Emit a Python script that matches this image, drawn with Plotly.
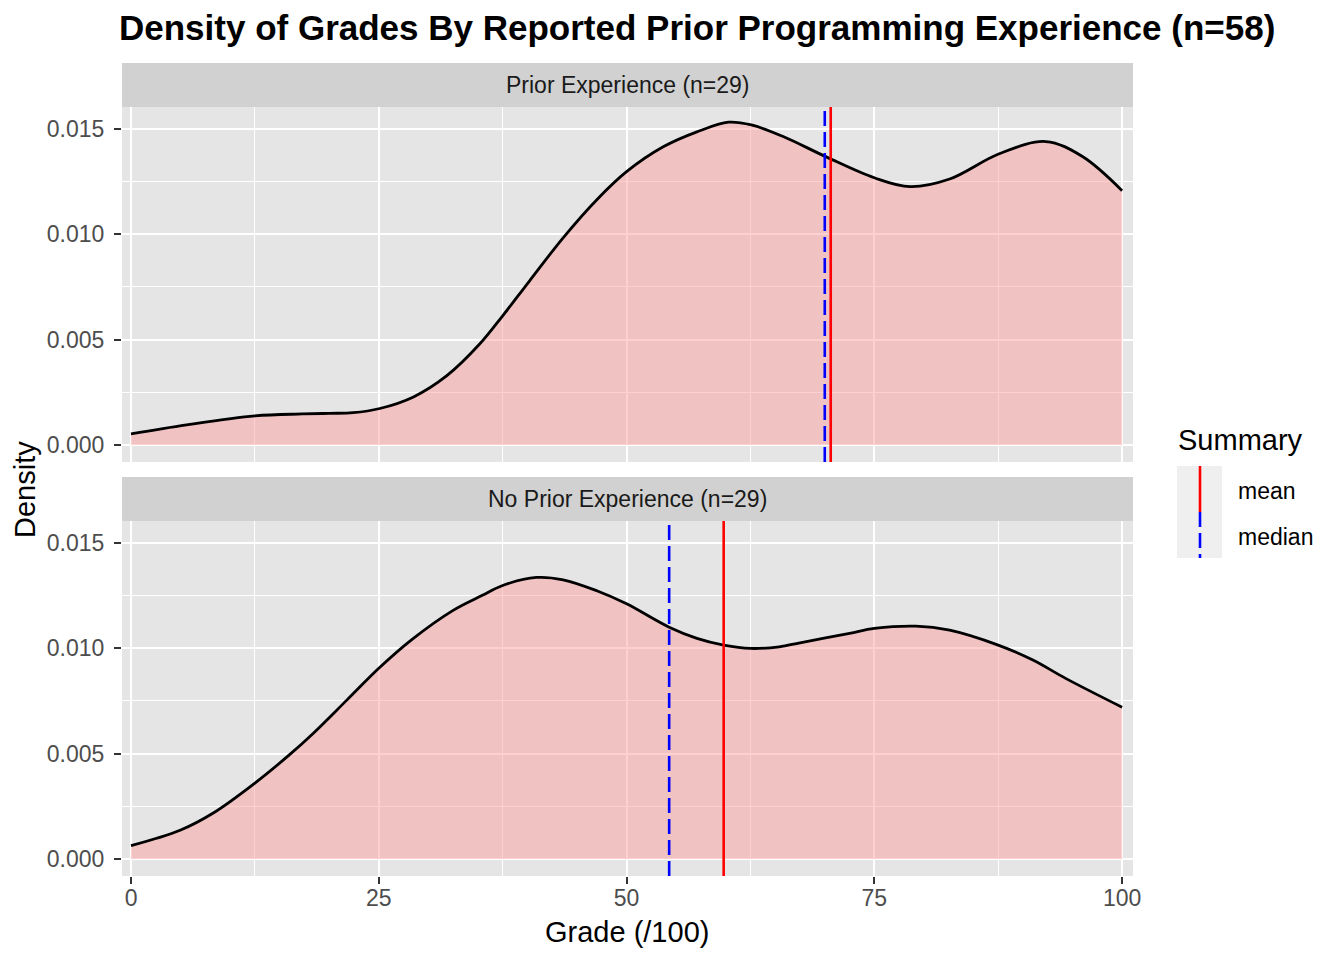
import plotly.graph_objects as go
from plotly.subplots import make_subplots

# ---------------- data ----------------
grade_prior = [0, 5.6, 12.5, 17.3, 20, 22.4, 25.1, 28.5, 31.9, 35.2, 37.5, 40.2, 43.6, 47.0, 50,
               53.7, 57.1, 60.3, 62.6, 65.8, 70.2, 75, 78.6, 82.6, 87.6, 92.3, 96, 100]
density_prior = [0.00052, 0.00095, 0.00138, 0.00147, 0.0015, 0.00153, 0.00173, 0.00228, 0.0033,
                 0.0048, 0.00613, 0.00778, 0.00983, 0.01164, 0.01297, 0.01415, 0.01486, 0.01532,
                 0.01519, 0.01464, 0.01366, 0.01268, 0.01226, 0.01262, 0.01382, 0.0144, 0.01369,
                 0.01207]

grade_noprior = [0, 4.95, 8.3, 12.5, 16.0, 18.4, 21.8, 25, 28.3, 32.5, 35.4, 37.5, 40.9, 43.6,
                 47, 50, 54.3, 57.1, 59.8, 62.5, 65.4, 67.5, 72.5, 75, 79.2, 82.6, 87.5, 91,
                 94.3, 100]
density_noprior = [0.00063, 0.00136, 0.00218, 0.0036, 0.00495, 0.00597, 0.00755, 0.00905, 0.0104,
                   0.0118, 0.0125, 0.01298, 0.01336, 0.01325, 0.01273, 0.01211, 0.0110, 0.01047,
                   0.01015, 0.00999, 0.01007, 0.01026, 0.01071, 0.01094, 0.01105, 0.01086,
                   0.01015, 0.00944, 0.00857, 0.0072]

panel_labels = ["Prior Experience (n=29)", "No Prior Experience (n=29)"]
mean_vals = [70.6, 59.8]
median_vals = [70.0, 54.3]
summary_labels = ["mean", "median"]
x_ticks = [0, 25, 50, 75, 100]
y_ticks = [0.000, 0.005, 0.010, 0.015]
y_tick_text = ["0.000", "0.005", "0.010", "0.015"]

title_text = "Density of Grades By Reported Prior Programming Experience (n=58)"
x_title = "Grade (/100)"
y_title = "Density"
legend_title = "Summary"

# ---------------- styling ----------------
FONT = "Liberation Sans, Arial, Helvetica, sans-serif"
PANEL_BG = "#E5E5E5"
STRIP_BG = "#D1D1D1"
KEY_BG = "#EFEFEF"
FILL = "rgba(255,150,150,0.45)"
W, H = 1344, 960
OFF = 8  # page body margin
L, T = 122 - OFF, 63 - OFF
R, B = W - (1133 - OFF), H - (876 - OFF)
PW, PH = W - L - R, H - T - B


def px_x(px):
    return (px - OFF - L) / PW


def px_y(py):
    return (H - B - (py - OFF)) / PH


fig = make_subplots(rows=2, cols=1)

series = [(grade_prior, density_prior), (grade_noprior, density_noprior)]
for i, (gx, dy) in enumerate(series):
    fig.add_trace(go.Scatter(x=gx, y=dy, mode="lines",
                             line=dict(color="black", width=2.8, shape="spline", smoothing=1.0),
                             fill="tozeroy", fillcolor=FILL, showlegend=False, hoverinfo="x+y"),
                  row=i + 1, col=1)
    fig.add_vline(x=median_vals[i], line=dict(color="blue", width=2.6, dash="15px,6px"), row=i + 1, col=1)
    fig.add_vline(x=mean_vals[i], line=dict(color="red", width=2.6), row=i + 1, col=1)

xr = [-0.91, 101.1]
yr = [-0.00081, 0.01604]
top_dom = [px_y(462), px_y(107)]
bot_dom = [px_y(876), px_y(521)]

TICKFONT = dict(family=FONT, size=23, color="#4D4D4D")
common_x = dict(range=xr, showgrid=True, gridcolor="white", gridwidth=2.2, zeroline=False,
                tickvals=x_ticks, ticktext=[str(v) for v in x_ticks],
                minor=dict(tickvals=[12.5, 37.5, 62.5, 87.5], showgrid=True, gridcolor="white",
                           gridwidth=1.1, ticks=""),
                tickfont=TICKFONT, showline=False)
common_y = dict(range=yr, showgrid=True, gridcolor="white", gridwidth=2.2, zeroline=False,
                tickvals=y_ticks, ticktext=y_tick_text, ticks="outside", ticklen=7, tickwidth=2,
                tickcolor="#333333", ticklabelstandoff=5,
                minor=dict(tickvals=[0.0025, 0.0075, 0.0125], showgrid=True, gridcolor="white",
                           gridwidth=1.1, ticks=""),
                tickfont=TICKFONT, showline=False)

fig.update_layout(
    xaxis=dict(common_x, domain=[0, 1], showticklabels=False, ticks=""),
    xaxis2=dict(common_x, domain=[0, 1], ticks="outside", ticklen=7, tickwidth=2,
                tickcolor="#333333", ticklabelstandoff=-6),
    yaxis=dict(common_y, domain=top_dom),
    yaxis2=dict(common_y, domain=bot_dom),
)

shapes = []
annotations = []
# facet strips
for lab, (y0, y1) in zip(panel_labels, [(px_y(107), px_y(63)), (px_y(521), px_y(477))]):
    shapes.append(dict(type="rect", xref="paper", yref="paper", x0=0, x1=1, y0=y0, y1=y1,
                       fillcolor=STRIP_BG, line=dict(width=0), layer="below"))
    annotations.append(dict(text=lab, xref="paper", yref="paper", x=0.5, y=(y0 + y1) / 2,
                            showarrow=False, xanchor="center", yanchor="middle",
                            font=dict(family=FONT, size=23, color="#1A1A1A")))

# axis titles
annotations.append(dict(text=x_title, xref="paper", yref="paper", x=px_x(627), y=px_y(932),
                        showarrow=False, xanchor="center", yanchor="middle",
                        font=dict(family=FONT, size=29, color="black")))
annotations.append(dict(text=y_title, xref="paper", yref="paper", x=px_x(25), y=px_y(490),
                        showarrow=False, xanchor="center", yanchor="middle", textangle=-90,
                        font=dict(family=FONT, size=29, color="black")))

# manual legend (ggplot-style vertical keys)
annotations.append(dict(text=legend_title, xref="paper", yref="paper", x=px_x(1176), y=px_y(440),
                        showarrow=False, xanchor="left", yanchor="middle",
                        font=dict(family=FONT, size=29, color="black")))
shapes.append(dict(type="rect", xref="paper", yref="paper", x0=px_x(1177), x1=px_x(1222),
                   y0=px_y(558), y1=px_y(466), fillcolor=KEY_BG, line=dict(width=0)))
shapes.append(dict(type="line", xref="paper", yref="paper", x0=px_x(1200), x1=px_x(1200),
                   y0=px_y(512), y1=px_y(466), line=dict(color="red", width=2.6)))
shapes.append(dict(type="line", xref="paper", yref="paper", x0=px_x(1200), x1=px_x(1200),
                   y0=px_y(512), y1=px_y(558), line=dict(color="blue", width=2.6, dash="15px,6px")))
for lab, py in zip(summary_labels, [491, 537]):
    annotations.append(dict(text=lab, xref="paper", yref="paper", x=px_x(1236), y=px_y(py),
                            showarrow=False, xanchor="left", yanchor="middle",
                            font=dict(family=FONT, size=23, color="black")))

fig.update_layout(
    width=W, height=H,
    margin=dict(l=L, r=R, t=T, b=B, autoexpand=False),
    paper_bgcolor="white", plot_bgcolor=PANEL_BG,
    font=dict(family=FONT, color="black"),
    title=dict(text="<b>" + title_text + "</b>", xref="container", x=(119 - OFF) / W, xanchor="left",
               yref="container", y=1 - (28 - OFF) / H, yanchor="middle",
               font=dict(family=FONT, size=35, color="black")),
    shapes=list(fig.layout.shapes) + shapes,
    annotations=annotations,
    showlegend=False,
)

fig.write_html("out.html")
